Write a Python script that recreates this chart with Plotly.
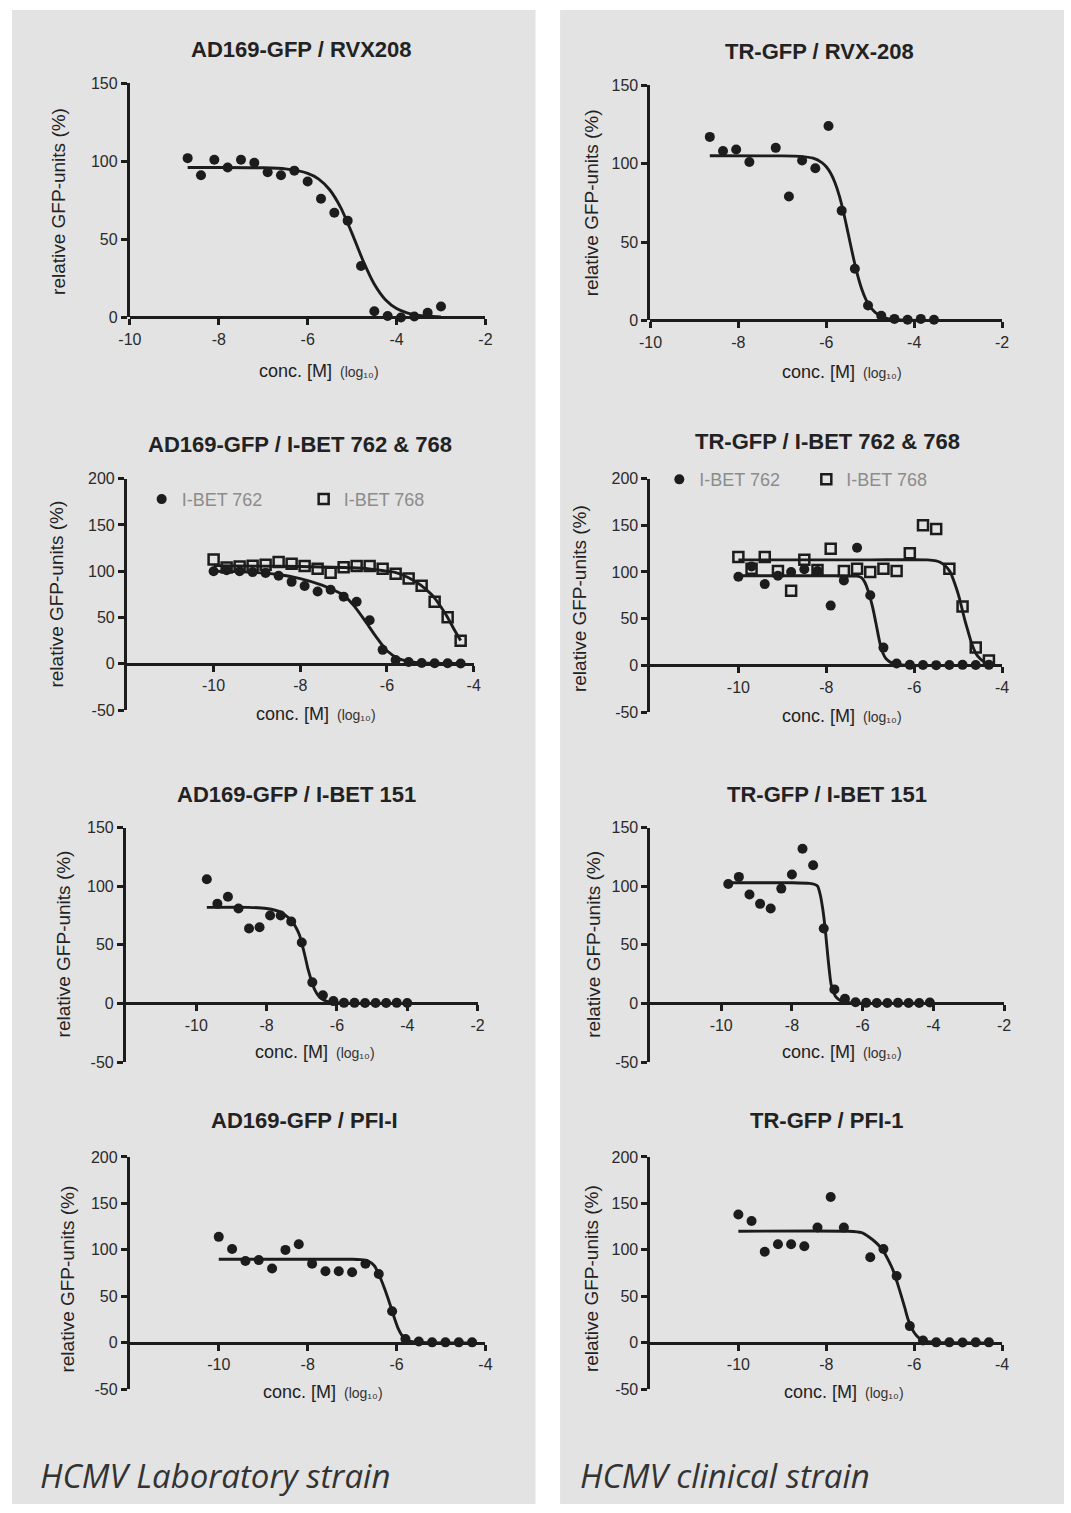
import plotly.graph_objects as go

W, H = 1071, 1513

# ---------------- data ----------------
# Panel 1: AD169-GFP / RVX208
p1_x = [-8.7, -8.4, -8.1, -7.8, -7.5, -7.2, -6.9, -6.6, -6.3, -6.0, -5.7, -5.4, -5.1, -4.8, -4.5, -4.2, -3.9, -3.6, -3.3, -3.0]
p1_y = [102, 91, 101, 96, 101, 99, 93, 91, 94, 87, 76, 67, 62, 33, 4, 1, 0, 0.6, 3, 7]
p1_cx = [-8.7, -8.0, -7.0, -6.5, -6.0, -5.75, -5.5, -5.25, -5.0, -4.75, -4.5, -4.25, -4.0, -3.75, -3.5, -3.0]
p1_cy = [96, 96, 95.8, 95.1, 92.3, 88.6, 81.6, 70, 53.7, 36.1, 21.3, 11.4, 5.7, 2.8, 1.3, 0.3]

# Panel 2: TR-GFP / RVX-208
p2_x = [-8.65, -8.35, -8.05, -7.75, -7.15, -6.85, -6.55, -6.25, -5.95, -5.65, -5.35, -5.05, -4.75, -4.45, -4.15, -3.85, -3.55]
p2_y = [117, 108, 109, 101, 110, 79, 102, 97, 124, 70, 33, 9.5, 3, 1, 0.4, 1, 0.4]
p2_cx = [-8.65, -7.0, -6.6, -6.3, -6.1, -6.0, -5.9, -5.8, -5.7, -5.6, -5.5, -5.4, -5.3, -5.2, -5.1, -5.0, -4.8, -4.6, -4.3, -3.55]
p2_cy = [105, 104.9, 104.6, 103.4, 100.6, 98, 93.8, 87.6, 79.1, 68, 55.1, 42, 30.1, 20.5, 13.4, 8.5, 3.3, 1.2, 0.3, 0]

# Panel 3: AD169-GFP / I-BET 762 & 768
p3_x = [-10.0, -9.7, -9.4, -9.1, -8.8, -8.5, -8.2, -7.9, -7.6, -7.3, -7.0, -6.7, -6.4, -6.1, -5.8, -5.5, -5.2, -4.9, -4.6, -4.3]
p3_y762 = [100, 101, 100, 99, 98, 95, 88.5, 84, 78, 80, 72.5, 67, 47, 15, 4, 1.8, 0.8, 0.5, 0.5, 0.3]
p3_y768 = [112.6, 104, 105, 106, 107, 110, 108, 105.5, 102.6, 98.4, 104.4, 105.5, 105.5, 102.6, 97.3, 92, 84.2, 67, 50.3, 24.8]
p3_c762x = [-10, -9.5, -9, -8.5, -8, -7.5, -7.25, -7, -6.75, -6.5, -6.25, -6, -5.75, -5.5, -5.25, -5, -4.3]
p3_c762y = [100, 99.5, 98.5, 96.5, 92, 85, 80, 74, 62, 46, 29, 14, 6, 2.5, 1, 0.5, 0.2]
p3_c768x = [-10, -9, -8, -7, -6.5, -6, -5.83, -5.5, -5.22, -5, -4.9, -4.75, -4.6, -4.45, -4.3]
p3_c768y = [106, 105.5, 105, 104, 103, 100, 99, 93, 85, 76, 71, 61, 50, 37, 25]

# Panel 4: TR-GFP / I-BET 762 & 768
p4_x = [-10.0, -9.7, -9.4, -9.1, -8.8, -8.5, -8.2, -7.9, -7.6, -7.3, -7.0, -6.7, -6.4, -6.1, -5.8, -5.5, -5.2, -4.9, -4.6, -4.3]
p4_y762 = [95, 106, 87, 96, 100, 103, 101, 64, 91, 126, 75, 19, 2, 0.5, 0.3, 0.2, 0.3, 0.5, 0.3, 0.5]
p4_y768 = [116, 103.5, 116, 101, 80, 113, 102, 125, 101, 103.5, 100, 103.5, 101, 120, 150, 146, 103.5, 63, 19, 5.3]
p4_c762x = [-10, -8, -7.3, -7.2, -7.13, -7.05, -6.94, -6.87, -6.79, -6.72, -6.64, -6.48, -6.3, -4.3]
p4_c762y = [96, 96, 95.5, 94, 89.5, 80, 61, 45, 26, 14, 7, 1.8, 0.5, 0]
p4_c768x = [-10, -7, -5.7, -5.5, -5.41, -5.3, -5.18, -5.08, -4.99, -4.92, -4.84, -4.76, -4.69, -4.6, -4.5, -4.4, -4.27]
p4_c768y = [113, 113, 113, 112, 110.5, 107, 100, 88, 75, 62, 47, 34, 23, 13, 7, 3.5, 1.8]

# Panel 5: AD169-GFP / I-BET 151
p5_x = [-9.7, -9.4, -9.1, -8.8, -8.5, -8.2, -7.9, -7.6, -7.3, -7.0, -6.7, -6.4, -6.1, -5.8, -5.5, -5.2, -4.9, -4.6, -4.3, -4.0]
p5_y = [106, 85, 91, 81, 64, 65, 75, 75, 70, 52, 18, 7, 2, 0.5, 0.5, 0.3, 0.3, 0.3, 0.5, 0.3]
p5_cx = [-9.7, -8.5, -8.0, -7.6, -7.3, -7.15, -7.06, -6.92, -6.82, -6.72, -6.63, -6.5, -6.3, -6.0, -5.8, -4.0]
p5_cy = [82, 82, 81, 78, 71, 64, 58, 42, 29, 19, 11.5, 5.5, 2, 0.6, 0.3, 0]

# Panel 6: TR-GFP / I-BET 151
p6_x = [-9.8, -9.5, -9.2, -8.9, -8.6, -8.3, -8.0, -7.7, -7.4, -7.1, -6.8, -6.5, -6.2, -5.9, -5.6, -5.3, -5.0, -4.7, -4.4, -4.1]
p6_y = [102, 108, 93, 85, 81, 98, 110, 132, 118, 64, 12, 4, 1, 0.5, 0.3, 0.3, 0.5, 0.3, 0.3, 0.8]
p6_cx = [-9.8, -8.0, -7.5, -7.35, -7.27, -7.2, -7.13, -7.06, -6.98, -6.89, -6.8, -6.74, -6.6, -6.5, -6.2, -4.1]
p6_cy = [103, 103, 102.5, 101.5, 100, 93, 81, 64, 39, 16, 8, 5, 2, 1, 0.3, 0]

# Panel 7: AD169-GFP / PFI-I
p7_x = [-10.0, -9.7, -9.4, -9.1, -8.8, -8.5, -8.2, -7.9, -7.6, -7.3, -7.0, -6.7, -6.4, -6.1, -5.8, -5.5, -5.2, -4.9, -4.6, -4.3]
p7_y = [114, 101, 88, 89, 80, 100, 106, 85, 77, 77, 76, 85, 74, 34, 4, 1.4, 0.5, 0.5, 0.5, 0.5]
p7_cx = [-10, -7, -6.8, -6.64, -6.5, -6.42, -6.34, -6.26, -6.18, -6.11, -6.03, -5.96, -5.88, -5.81, -5.7, -5.58, -5.3, -4.3]
p7_cy = [90, 90, 89.5, 88, 83, 76, 67, 57, 46, 36, 24, 15, 8, 4.2, 1.8, 0.7, 0.2, 0]

# Panel 8: TR-GFP / PFI-1
p8_x = [-10.0, -9.7, -9.4, -9.1, -8.8, -8.5, -8.2, -7.9, -7.6, -7.0, -6.7, -6.4, -6.1, -5.8, -5.5, -5.2, -4.9, -4.6, -4.3]
p8_y = [138, 131, 98, 106, 106, 104, 124, 157, 124, 92, 101, 72, 18, 2.5, 0.5, 0.5, 0.3, 0.5, 0.5]
p8_cx = [-10, -7.5, -7.2, -7.02, -6.85, -6.71, -6.6, -6.48, -6.38, -6.29, -6.21, -6.14, -6.05, -5.95, -5.84, -5.72, -5.5, -4.3]
p8_cy = [120, 120, 118.5, 113.6, 107, 99.5, 90, 78, 64, 50, 37, 25.4, 15, 7.8, 3.5, 1.4, 0.4, 0]

titles = ["AD169-GFP / RVX208", "TR-GFP / RVX-208",
          "AD169-GFP / I-BET 762 & 768", "TR-GFP / I-BET 762 & 768",
          "AD169-GFP / I-BET 151", "TR-GFP / I-BET 151",
          "AD169-GFP / PFI-I", "TR-GFP / PFI-1"]
y_title = "relative GFP-units (%)"
x_title_main = "conc. [M]"
x_title_unit = "(log₁₀)"
series_names = ["I-BET 762", "I-BET 768"]
captions = ["HCMV Laboratory strain", "HCMV clinical strain"]

xt_a = [-10, -8, -6, -4, -2]
xt_a_lbl = ["-10", "-8", "-6", "-4", "-2"]
xt_b = [-10, -8, -6, -4]
xt_b_lbl = ["-10", "-8", "-6", "-4"]
yt_150 = [0, 50, 100, 150]
yt_150_lbl = ["0", "50", "100", "150"]
yt_200 = [-50, 0, 50, 100, 150, 200]
yt_200_lbl = ["-50", "0", "50", "100", "150", "200"]
yt_150n = [-50, 0, 50, 100, 150]
yt_150n_lbl = ["-50", "0", "50", "100", "150"]

# ---------------- layout (pixel geometry) ----------------
FONT = "Liberation Sans, Arial, sans-serif"
INK = "#1c1c1c"
PANEL = "#e3e3e3"

panels = [
    dict(xl=120, xr=482, yt=76, yb=313, xr_=[-10, -2], yr=[0, 150], xt=(xt_a, xt_a_lbl), yt_=(yt_150, yt_150_lbl),
         title=(295, 42), ytl=(48, 196), xtl=(318, 367)),
    dict(xl=650, xr=1008, yt=78, yb=316, xr_=[-10, -2], yr=[0, 150], xt=(xt_a, xt_a_lbl), yt_=(yt_150, yt_150_lbl),
         title=(822, 44), ytl=(590, 197), xtl=(850, 368)),
    dict(xl=117, xr=470, yt=476, yb=710, xr_=[-12, -4], yr=[-50, 200], xt=(xt_b, xt_b_lbl), yt_=(yt_200, yt_200_lbl),
         title=(293, 441), ytl=(45, 593), xtl=(315, 714)),
    dict(xl=650, xr=1008, yt=476, yb=712, xr_=[-12, -4], yr=[-50, 200], xt=(xt_b, xt_b_lbl), yt_=(yt_200, yt_200_lbl),
         title=(830, 438), ytl=(578, 597), xtl=(850, 716)),
    dict(xl=116, xr=474, yt=829, yb=1066, xr_=[-12, -2], yr=[-50, 150], xt=(xt_a, xt_a_lbl), yt_=(yt_150n, yt_150n_lbl),
         title=(290, 795), ytl=(52, 947), xtl=(314, 1056)),
    dict(xl=650, xr=1010, yt=829, yb=1066, xr_=[-12, -2], yr=[-50, 150], xt=(xt_a, xt_a_lbl), yt_=(yt_150n, yt_150n_lbl),
         title=(830, 795), ytl=(592, 947), xtl=(850, 1056)),
    dict(xl=120, xr=482, yt=1162, yb=1397, xr_=[-12, -4], yr=[-50, 200], xt=(xt_b, xt_b_lbl), yt_=(yt_200, yt_200_lbl),
         title=(298, 1125), ytl=(57, 1285), xtl=(322, 1400)),
    dict(xl=650, xr=1008, yt=1162, yb=1397, xr_=[-12, -4], yr=[-50, 200], xt=(xt_b, xt_b_lbl), yt_=(yt_200, yt_200_lbl),
         title=(830, 1125), ytl=(590, 1285), xtl=(852, 1400)),
]


def px(x):
    return x / W


def py(y):
    return 1 - y / H


fig = go.Figure()
layout = dict(width=W, height=H, margin=dict(l=0, r=0, t=0, b=0, pad=0), autosize=False,
              paper_bgcolor="white", plot_bgcolor="rgba(0,0,0,0)",
              font=dict(family=FONT, color=INK), showlegend=True)

annotations = []
shapes = [
    dict(type="rect", xref="paper", yref="paper", x0=0, x1=px(533), y0=0, y1=py(2),
         fillcolor=PANEL, line=dict(width=0), layer="below"),
    dict(type="rect", xref="paper", yref="paper", x0=px(558), x1=1, y0=0, y1=py(2),
         fillcolor=PANEL, line=dict(width=0), layer="below"),
]

for i, p in enumerate(panels):
    k = i + 1
    xa = "xaxis" if k == 1 else f"xaxis{k}"
    ya = "yaxis" if k == 1 else f"yaxis{k}"
    xref = "x" if k == 1 else f"x{k}"
    y0d, y1d = py(p["yb"]), py(p["yt"])
    ymin, ymax = p["yr"]
    zero_pos = y0d + (0 - ymin) / (ymax - ymin) * (y1d - y0d)
    axis_common = dict(showline=True, linecolor=INK, linewidth=3, ticks="outside", ticklen=6,
                       tickwidth=2.5, tickcolor=INK, showgrid=False, zeroline=False,
                       tickfont=dict(family=FONT, size=16, color="#2a2a2a"), fixedrange=True)
    layout[xa] = dict(domain=[px(p["xl"]), px(p["xr"])], range=p["xr_"], anchor="free",
                      position=zero_pos, tickvals=p["xt"][0], ticktext=p["xt"][1], **axis_common)
    layout[ya] = dict(domain=[y0d, y1d], range=p["yr"], anchor=xref,
                      tickvals=p["yt_"][0], ticktext=p["yt_"][1], **axis_common)
    annotations.append(dict(text=f"<b>{titles[i]}</b>", x=px(p["title"][0]), y=py(p["title"][1]),
                            xref="paper", yref="paper", showarrow=False, xanchor="center", yanchor="middle",
                            font=dict(family=FONT, size=22, color="#222")))
    annotations.append(dict(text=y_title, x=px(p["ytl"][0]), y=py(p["ytl"][1]), textangle=-90,
                            xref="paper", yref="paper", showarrow=False, xanchor="center", yanchor="middle",
                            font=dict(family=FONT, size=19, color="#222")))
    cx, cy = p["xtl"]
    annotations.append(dict(text=x_title_main, x=px(cx + 10), y=py(cy), xref="paper", yref="paper",
                            showarrow=False, xanchor="right", yanchor="middle",
                            font=dict(family=FONT, size=18, color="#222")))
    annotations.append(dict(text=x_title_unit, x=px(cx + 14), y=py(cy + 1), xref="paper", yref="paper",
                            showarrow=False, xanchor="left", yanchor="middle",
                            font=dict(family=FONT, size=14, color="#333")))


def add_points(k, x, y, symbol="circle", name=None, legend=None):
    xref = "x" if k == 1 else f"x{k}"
    yref = "y" if k == 1 else f"y{k}"
    if symbol == "circle":
        marker = dict(symbol="circle", size=10, color=INK)
    else:
        marker = dict(symbol="square-open", size=10, color=INK, line=dict(width=2.5, color=INK))
    fig.add_trace(go.Scatter(x=x, y=y, mode="markers", marker=marker, xaxis=xref, yaxis=yref,
                             cliponaxis=False, name=name or "", showlegend=legend is not None,
                             legend=legend or "legend"))


def add_curve(k, x, y):
    xref = "x" if k == 1 else f"x{k}"
    yref = "y" if k == 1 else f"y{k}"
    fig.add_trace(go.Scatter(x=x, y=y, mode="lines", line=dict(color=INK, width=2.9, shape="spline", smoothing=0.6),
                             xaxis=xref, yaxis=yref, cliponaxis=False, showlegend=False, hoverinfo="skip"))


add_curve(1, p1_cx, p1_cy); add_points(1, p1_x, p1_y)
add_curve(2, p2_cx, p2_cy); add_points(2, p2_x, p2_y)
add_curve(3, p3_c762x, p3_c762y); add_curve(3, p3_c768x, p3_c768y)
add_points(3, p3_x, p3_y762, "circle", series_names[0], "legend")
add_points(3, p3_x, p3_y768, "square", series_names[1], "legend")
add_curve(4, p4_c762x, p4_c762y); add_curve(4, p4_c768x, p4_c768y)
add_points(4, p4_x, p4_y762, "circle", series_names[0], "legend2")
add_points(4, p4_x, p4_y768, "square", series_names[1], "legend2")
add_curve(5, p5_cx, p5_cy); add_points(5, p5_x, p5_y)
add_curve(6, p6_cx, p6_cy); add_points(6, p6_x, p6_y)
add_curve(7, p7_cx, p7_cy); add_points(7, p7_x, p7_y)
add_curve(8, p8_cx, p8_cy); add_points(8, p8_x, p8_y)

legend_common = dict(orientation="h", xanchor="left", yanchor="middle", bgcolor="rgba(0,0,0,0)",
                     font=dict(family=FONT, size=18, color="#8c8c8c"), itemwidth=30,
                     entrywidth=117, entrywidthmode="pixels", itemclick=False, itemdoubleclick=False)
layout["legend"] = dict(x=px(132), y=py(497), **legend_common)
layout["legend2"] = dict(x=px(659), y=py(477), **{**legend_common, "entrywidth": 102})

cap_font = dict(family="Open Sans, sans-serif", size=33, color="#333")
annotations.append(dict(text=f"<i>{captions[0]}</i>", x=px(26), y=py(1484), xref="paper", yref="paper",
                        showarrow=False, xanchor="left", yanchor="middle", font=cap_font))
annotations.append(dict(text=f"<i>{captions[1]}</i>", x=px(576), y=py(1484), xref="paper", yref="paper",
                        showarrow=False, xanchor="left", yanchor="middle", font=cap_font))

layout["annotations"] = annotations
layout["shapes"] = shapes
fig.update_layout(**layout)

reset_js = ("var d=document.documentElement,b=document.body;"
            "d.style.margin='0';d.style.padding='0';b.style.margin='0';b.style.padding='0';"
            "d.style.overflow='hidden';b.style.overflow='hidden';")
fig.write_html("out.html", config={"displayModeBar": False, "responsive": False}, post_script=reset_js)
